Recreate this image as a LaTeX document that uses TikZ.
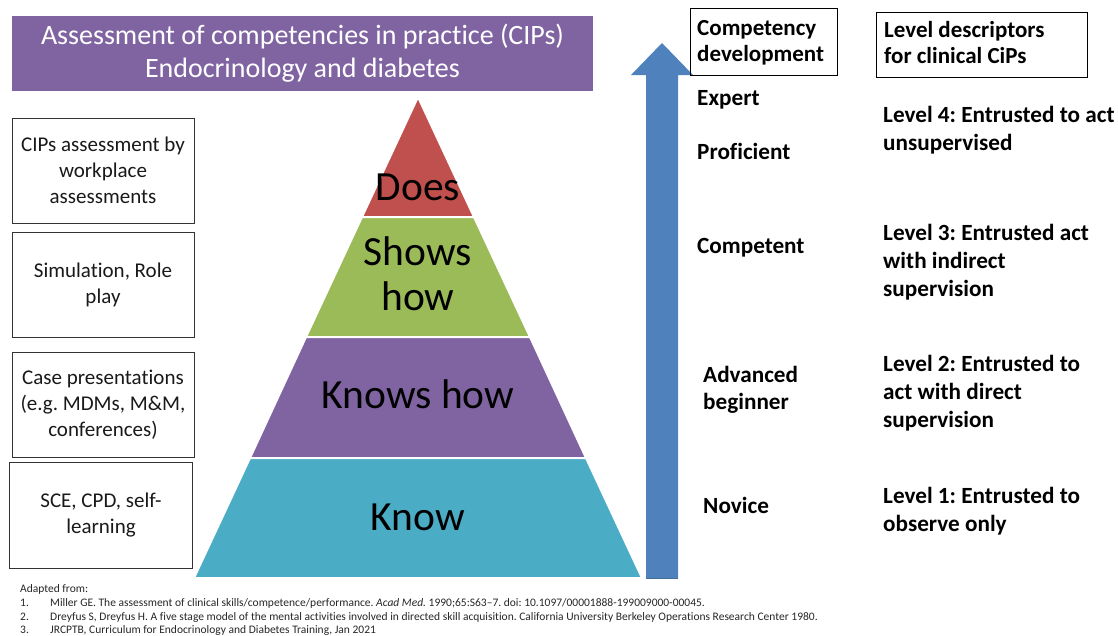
\documentclass[tikz,border=0pt]{standalone}
\usepackage{fontspec}
\setmainfont{Carlito}[Ligatures=NoCommon]
\frenchspacing
\definecolor{titlepurple}{HTML}{8064A2}
\definecolor{doesred}{HTML}{C0504D}
\definecolor{showsgreen}{HTML}{9BBB59}
\definecolor{knowshowpurple}{HTML}{8064A2}
\definecolor{knowcyan}{HTML}{4BACC6}
\definecolor{arrowblue}{HTML}{4F81BD}
\definecolor{arrowedge}{HTML}{41709F}
\begin{document}
\begin{tikzpicture}[x=1pt,y=-1pt,
  methodbox/.style={draw=black!80, line width=0.9pt, minimum width=182pt, minimum height=105pt,
    align=center, inner sep=0pt, font=\fontsize{21}{26}\selectfont, text=black!90},
  headbox/.style={draw=black, line width=0.9pt, anchor=north west, inner sep=0pt},
  headtxt/.style={font=\fontsize{23}{26}\selectfont\bfseries, align=left, anchor=base west, inner sep=0pt},
  tier/.style={draw=white, line width=2pt},
  tiertext/.style={font=\fontsize{41.5}{45}\selectfont, align=center, inner sep=0pt},
  stagelbl/.style={font=\fontsize{23.2}{26.5}\selectfont\bfseries, anchor=base west, inner sep=0pt, align=left},
  levellbl/.style={font=\fontsize{23.2}{28}\selectfont\bfseries, anchor=base west, inner sep=0pt, align=left},
  note/.style={font=\fontsize{11.5}{13}\selectfont, anchor=base west, inner sep=0pt, text=black!85}
]
\useasboundingbox (0,0) rectangle (1118,635);

% Title banner
\node[fill=titlepurple, minimum width=581pt, minimum height=75pt, inner sep=0pt,
      text=white, align=center, font=\fontsize{28}{33}\selectfont] (title) at (302.5,53)
  {Assessment of competencies in practice (CIPs)\\Endocrinology and diabetes};

% Assessment methods
\node[methodbox] (wpa) at (103,170.5) {CIPs assessment by\\workplace\\assessments};
\node[methodbox] (sim) at (103,284.5) {Simulation, Role\\play};
\node[methodbox] (case) at (103,405) {Case presentations\\(e.g. MDMs, M\&M,\\conferences)};
\node[methodbox, minimum width=183pt, minimum height=106pt] (sce) at (101,515) {SCE, CPD, self-\\learning};

% Miller's pyramid: apex (418,97), base 194..642 at y=578
\fill[doesred]       (418,97) -- (474,217) -- (362,217) -- cycle;
\draw[tier]          (418,97) -- (474,217) -- (362,217) -- cycle;
\fill[showsgreen]    (362,217) -- (474,217) -- (530,337) -- (306,337) -- cycle;
\draw[tier]          (362,217) -- (474,217) -- (530,337) -- (306,337) -- cycle;
\fill[knowshowpurple](306,337) -- (530,337) -- (586,458) -- (250,458) -- cycle;
\draw[tier]          (306,337) -- (530,337) -- (586,458) -- (250,458) -- cycle;
\fill[knowcyan]      (250,458) -- (586,458) -- (642,578) -- (194,578) -- cycle;
\draw[tier]          (250,458) -- (586,458) -- (642,578) -- (194,578) -- cycle;

\node[tiertext, anchor=base] (does) at (418,200) {Does};
\node[tiertext, anchor=base] (shows) at (418,310) {Shows\\how};
\node[tiertext, anchor=base] (knowshow) at (418,408) {Knows how};
\node[tiertext, anchor=base] (know) at (418,530) {Know};

% Development arrow
\fill[arrowblue] (646,578) -- (646,75) -- (631,75) -- (662,43) -- (693,75) -- (678,75) -- (678,578) -- cycle;
\draw[arrowedge, line width=0.6pt] (646,578) -- (678,578);

% Column headings
\node[headbox, minimum width=147pt, minimum height=67pt] (devbox) at (690,8) {};
\node[headtxt] (devtxt) at (697,61) {Competency\\development};
\node[headbox, minimum width=211pt, minimum height=65pt] (lvlbox) at (876,12) {};
\node[headtxt] (lvltxt) at (884,63) {Level descriptors\\for clinical CiPs};

% Dreyfus stages
\node[stagelbl] (expert) at (697,105) {Expert};
\node[stagelbl] (proficient) at (697,159) {Proficient};
\node[stagelbl] (competent) at (697,253) {Competent};
\node[stagelbl] (advanced) at (703,409) {Advanced\\beginner};
\node[stagelbl] (novice) at (703,513) {Novice};

% Entrustment levels
\node[levellbl] (lvl4) at (883,150) {Level 4: Entrusted to act\\unsupervised};
\node[levellbl] (lvl3) at (883,296) {Level 3: Entrusted act\\with indirect\\supervision};
\node[levellbl] (lvl2) at (883,427) {Level 2: Entrusted to\\act with direct\\supervision};
\node[levellbl] (lvl1) at (883,531) {Level 1: Entrusted to\\observe only};

% References
\node[note] (adapted) at (20,592) {Adapted from:};
\node[note] (n1) at (20,606) {1.};
\node[note] (r1) at (50,606) {Miller GE. The assessment of clinical skills/competence/performance. \textit{Acad Med.} 1990;65:S63–7. doi: 10.1097/00001888-199009000-00045.};
\node[note] (n2) at (20,620) {2.};
\node[note] (r2) at (50,620) {Dreyfus S, Dreyfus H. A five stage model of the mental activities involved in directed skill acquisition. California University Berkeley Operations Research Center 1980.};
\node[note] (n3) at (20,633) {3.};
\node[note] (r3) at (50,633) {JRCPTB, Curriculum for Endocrinology and Diabetes Training, Jan 2021};
\end{tikzpicture}
\end{document}
